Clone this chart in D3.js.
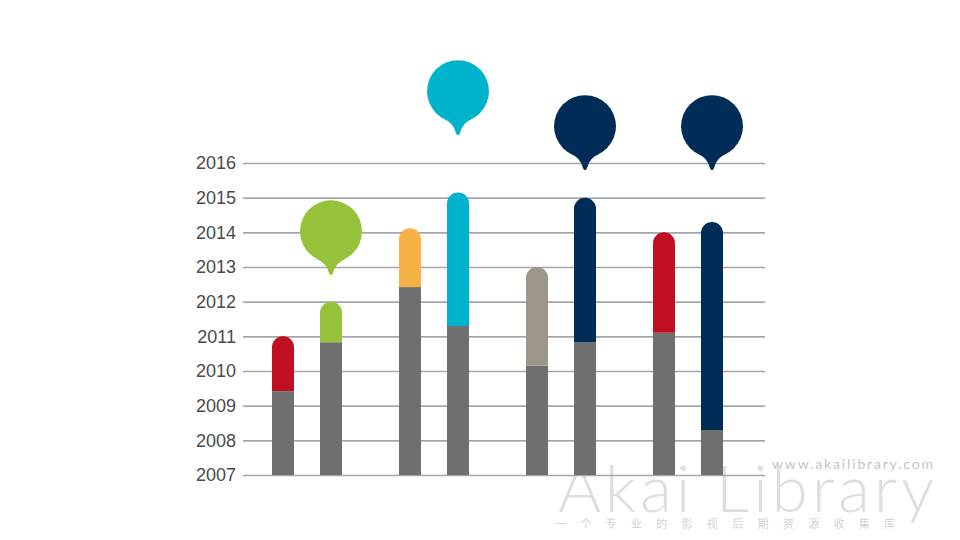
<!DOCTYPE html>
<html><head><meta charset="utf-8">
<script src="https://cdn.jsdelivr.net/npm/d3@7"></script>
<style>body{margin:0;background:#fff;}svg{display:block;}</style>
</head><body>
<svg id="c" width="960" height="540"></svg>
<script>
const years = [2007,2008,2009,2010,2011,2012,2013,2014,2015,2016];
const bars = ["a1","a2","b1","b2","c1","c2","d1","d2"];
const baseValues = [2009.42,2010.83,2012.42,2011.3,2010.15,2010.83,2011.1,2008.3];
const topValues  = [2011.0,2012.0,2014.12,2015.15,2013.0,2015.0,2014.0,2014.3];
const topColors  = ["#c00f23","#97c23c","#f6b244","#00b3cc","#9b958a","#002d57","#c00f23","#002d57"];
const pinValues  = [null,2014.03,null,2018.07,null,2017.06,null,2017.06];

const svg = d3.select("#c");
const y = d3.scaleLinear().domain([2007,2016]).range([475,163]);
const centers = [283,331,410,458,537,585,664,712];
const cx = d3.scaleOrdinal().domain(bars).range(centers);
const bw = 22;

// watermark
const wm = svg.append("g");
wm.append("text").attr("x",772).attr("y",469)
  .attr("font-family","Lato, 'Open Sans', sans-serif").attr("font-size",14).attr("fill","#c4c4c4")
  .attr("textLength",161).text("www.akailibrary.com");
wm.append("text").attr("x",558).attr("y",512)
  .attr("font-family","Lato, 'Open Sans', sans-serif").attr("font-weight",300).attr("font-size",66).attr("fill","#dedede")
  .attr("textLength",376).text("Akai Library");
wm.append("text").attr("x",555).attr("y",528)
  .attr("font-family","'Noto Sans CJK SC', sans-serif").attr("font-size",11).attr("fill","#d2d2d2")
  .attr("textLength",340).text("一 个 专 业 的 影 视 后 期 资 源 收 集 库");

// grid
const axis = d3.axisLeft(y).tickValues(years).tickFormat(d3.format("d")).tickSize(-522).tickPadding(7);
const ag = svg.append("g").attr("transform","translate(243,0)").call(axis);
ag.select(".domain").remove();
ag.selectAll(".tick line").attr("stroke","#a3a7ab").attr("stroke-width",1.6);
ag.selectAll(".tick text").attr("font-family","'Liberation Sans', Arial, sans-serif")
  .attr("font-size",18).attr("fill","#4a4a4a");

// bars
const g = svg.append("g");
bars.forEach((b,i)=>{
  const c = cx(b), l = c - bw/2, r = c + bw/2;
  g.append("rect").attr("x",l).attr("width",bw).attr("y",y(baseValues[i]))
    .attr("height",y(2007)-y(baseValues[i])).attr("fill","#6f6f6f");
  const yt = y(topValues[i]), yb = y(baseValues[i]), rad = bw/2;
  const p = d3.path();
  p.moveTo(l,yb); p.lineTo(l,yt+rad);
  p.arc(c,yt+rad,rad,Math.PI,0);
  p.lineTo(r,yb); p.closePath();
  g.append("path").attr("d",p.toString()).attr("fill",topColors[i]);
  if(pinValues[i]!==null){
    const pc = y(pinValues[i]), R = 31, a = 28*Math.PI/180;
    const q = d3.path();
    q.moveTo(c - R*Math.sin(a), pc + R*Math.cos(a));
    q.quadraticCurveTo(c-4, pc+R+1, c-2, pc+R+11);
    q.quadraticCurveTo(c, pc+R+15, c+2, pc+R+11);
    q.quadraticCurveTo(c+4, pc+R+1, c + R*Math.sin(a), pc + R*Math.cos(a));
    q.closePath();
    g.append("path").attr("d",q.toString()).attr("fill",topColors[i]);
    g.append("circle").attr("cx",c).attr("cy",pc).attr("r",R).attr("fill",topColors[i]);
  }
});
</script>
</body></html>
